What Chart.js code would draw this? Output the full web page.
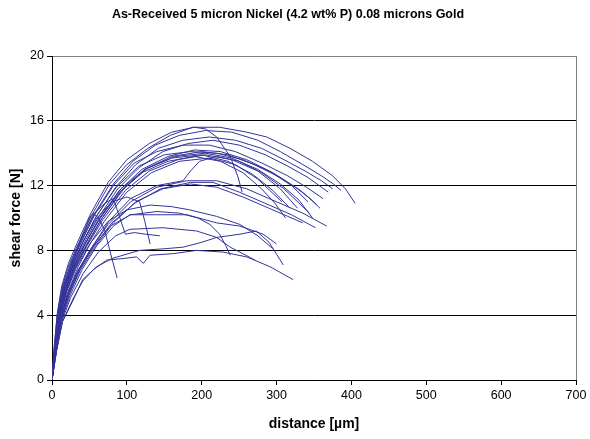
<!DOCTYPE html>
<html>
<head>
<meta charset="utf-8">
<script src="https://cdn.jsdelivr.net/npm/chart.js@4"></script>
<style>
  body { margin: 0; background: #fff; }
</style>
</head>
<body>
<canvas id="myChart" width="590" height="439"></canvas>
<script>
// shear test curves, [distance um, force N]
var curve01 = [[0,0],[3,2],[7,4],[13,5.6],[21,6.9],[33,8.2],[51,10],[77,12.1],[100,13.3],[128,14.3],[158,15.1],[188,15.6],[224,15.6],[260,15.3],[287,15],[318,14.3],[348,13.5],[375,12.6],[392,11.8],[405,10.9]];
var curve02 = [[0,0],[3,2.1],[7,4.1],[13,5.8],[22,7.2],[34,8.5],[52,10.3],[75,12.2],[100,13.6],[130,14.6],[160,15.3],[190,15.6],[205,15.5],[220,15],[238,13.8],[248,12.6],[254,11.6]];
var curve03 = [[0,0],[4,2],[8,4],[15,5.7],[24,7],[37,8.4],[56,10.2],[82,12.1],[108,13.5],[138,14.5],[170,15.1],[205,15.4],[240,15.3],[275,14.8],[305,14.1],[335,13.3],[360,12.6],[376,12.1],[386,11.7]];
var curve04 = [[0,0],[4,2],[9,4],[16,5.6],[26,7],[39,8.3],[58,10],[85,11.9],[112,13.3],[142,14.3],[175,14.8],[210,15],[245,14.8],[280,14.3],[310,13.6],[338,12.9],[360,12.3],[375,11.8]];
var curve05 = [[0,0],[4,1.9],[9,3.9],[17,5.6],[27,6.9],[41,8.3],[60,9.9],[88,11.8],[116,13.1],[148,14.1],[182,14.6],[215,14.8],[250,14.5],[285,13.9],[315,13.2],[342,12.5],[369,11.6]];
var curve06 = [[0,0],[4,1.8],[9,3.8],[17,5.5],[28,6.9],[42,8.2],[62,9.9],[90,11.7],[120,13],[155,13.8],[190,14.2],[225,14.1],[260,13.6],[295,12.8],[325,11.9],[345,11.2],[358,10.6]];
var curve07 = [[0,0],[5,2],[10,3.9],[18,5.4],[29,6.8],[44,8.2],[64,9.8],[93,11.7],[124,13],[160,13.8],[200,14.1],[235,13.9],[270,13.3],[305,12.5],[332,11.7],[354,10.8]];
var curve08 = [[0,0],[5,2],[10,3.9],[19,5.5],[30,6.9],[46,8.3],[67,10],[96,11.8],[128,13.1],[165,13.8],[205,14],[240,13.7],[275,13],[305,12.1],[330,11.1],[348,10]];
var curve09 = [[0,0],[4,1.9],[9,3.9],[17,5.6],[27,7],[40,8.4],[59,10.1],[86,11.9],[116,13.2],[150,13.9],[185,14.1],[220,14],[255,13.6],[290,12.9],[320,12],[342,11]];
var curve10 = [[0,0],[5,2],[10,3.8],[19,5.4],[31,6.9],[47,8.3],[68,9.9],[98,11.7],[130,12.9],[168,13.6],[205,13.9],[240,13.6],[275,12.9],[305,11.8],[328,10.6]];
var curve11 = [[0,0],[4,1.9],[9,3.9],[18,5.6],[29,7],[44,8.4],[64,10],[92,11.8],[124,13],[160,13.7],[200,13.9],[235,13.5],[268,12.7],[295,11.7],[318,10.6]];
var curve12 = [[0,0],[5,1.9],[11,3.9],[20,5.5],[32,6.9],[48,8.2],[70,9.8],[100,11.6],[133,12.8],[170,13.5],[210,13.7],[245,13.3],[275,12.4],[307,11]];
var curve13 = [[0,0],[5,1.8],[11,3.7],[21,5.3],[34,6.7],[52,8.1],[75,9.6],[105,11],[140,11.9],[180,12.3],[220,12.3],[260,11.8],[300,11],[335,10.3],[367,9.5]];
var curve14 = [[0,0],[5,1.8],[12,3.8],[22,5.3],[36,6.8],[55,8.2],[80,9.7],[110,10.9],[145,11.8],[185,12.2],[215,12.2],[250,11.6],[285,10.9],[320,10.2],[352,9.4]];
var curve15 = [[0,0],[6,1.9],[12,3.7],[23,5.3],[38,6.8],[57,8.2],[82,9.7],[112,11],[148,11.8],[185,12.1],[220,11.9],[255,11.3],[290,10.6],[315,10.1],[335,9.7]];
var curve16 = [[0,0],[5,1.8],[11,3.7],[21,5.3],[34,6.7],[52,8.1],[76,9.8],[105,11.2],[140,12],[175,12.3],[185,12.9],[197,13.5],[220,13.8],[250,13.5],[280,12.8],[310,11.8],[344,10.3]];
var curve17 = [[0,0],[5,1.8],[12,3.6],[24,5.2],[40,6.8],[60,8.3],[82,9.5],[104,10.2],[148,10.2],[180,10.2],[220,9.7],[251,9.5],[282,9],[300,8.4]];
var curve18 = [[0,0],[5,1.8],[12,3.7],[23,5.3],[38,6.9],[56,8.3],[78,9.5],[105,10.2],[140,10.4],[170,10.3],[195,10],[211,9.6],[224,9],[232,8.3],[238,7.7]];
var curve19 = [[0,0],[6,1.8],[13,3.6],[25,5.1],[42,6.6],[62,7.9],[85,8.9],[104,9.3],[148,9.4],[193,9.2],[220,8.8],[238,8.2],[255,7.8],[271,7.4]];
var curve20 = [[0,0],[6,1.8],[14,3.6],[28,4.9],[41,6.2],[60,7],[80,7.5],[117,8],[150,8.1],[175,8.2],[200,8.5],[220,8.8],[251,9],[273,9.2],[290,8.5],[309,7.1]];
var curve21 = [[0,0],[6,1.8],[14,3.6],[28,5],[41,6.1],[55,6.8],[73,7.4],[95,7.5],[113,7.6],[122,7.2],[131,7.7],[162,7.8],[193,8],[228,7.9],[260,7.6],[291,7],[322,6.2]];
var curve22 = [[0,0],[4,2],[8,3.9],[15,5.6],[25,7],[38,8.6],[50,10],[55,10.3],[62,10],[70,9.3],[75,8.4],[80,7.5],[87,6.3]];
var curve23 = [[0,0],[4,2],[9,4],[17,5.7],[28,7.1],[42,8.6],[60,10],[80,11],[100,11.3],[117,11],[124,9.8],[131,8.4]];
var curve24 = [[0,0],[4,2],[8,4],[15,5.8],[25,7.2],[38,8.6],[55,10.2],[70,10.9],[82,11.2],[90,10.1],[98,9],[110,9.1],[125,9],[144,8.9]];
var curve25 = [[0,0],[5,1.9],[11,3.8],[21,5.4],[35,7],[52,8.5],[75,9.8],[100,10.5],[131,10.8],[160,10.7],[184,10.5],[220,10.1],[251,9.6],[275,8.9],[295,8.1]];
var curve26 = [[0,0],[4,2],[8,4],[16,5.7],[26,7.1],[39,8.5],[57,10.2],[82,12],[110,13.4],[140,14.1],[175,14.5],[210,14.5],[245,14.1],[280,13.4],[315,12.6],[340,11.9],[362,11.2]];
var curve27 = [[0,0],[5,2],[10,3.9],[18,5.5],[29,6.9],[43,8.3],[63,9.9],[90,11.6],[120,12.8],[155,13.5],[190,13.8],[225,13.5],[255,12.8],[280,11.8],[298,10.9],[312,10]];

var curves = [curve01, curve02, curve03, curve04, curve05, curve06, curve07, curve08, curve09,
              curve10, curve11, curve12, curve13, curve14, curve15, curve16, curve17, curve18,
              curve19, curve20, curve21, curve22, curve23, curve24, curve25, curve26, curve27];

var xTicks = [0, 100, 200, 300, 400, 500, 600, 700];
var yTicks = [0, 4, 8, 12, 16, 20];

var lineColor = '#333399';

Chart.defaults.font.family = '"Liberation Sans", Arial, sans-serif';
Chart.defaults.color = '#000';

var datasets = curves.map(function (c, i) {
    return {
        label: 'test ' + (i + 1),
        data: c.map(function (p) { return { x: p[0], y: p[1] }; }),
        showLine: true,
        borderColor: lineColor,
        backgroundColor: lineColor,
        borderWidth: 1,
        pointRadius: 0,
        tension: 0
    };
});

var ctx = document.getElementById('myChart').getContext('2d');
var myChart = new Chart(ctx, {
    type: 'scatter',
    data: { datasets: datasets },
    options: {
        responsive: false,
        animation: false,
        devicePixelRatio: 1,
        layout: { padding: { left: 0, right: 14, top: 0, bottom: 0 } },
        plugins: {
            legend: { display: false },
            tooltip: { enabled: false },
            title: {
                display: true,
                text: 'As-Received 5 micron Nickel (4.2 wt% P) 0.08 microns Gold',
                font: { size: 12.5, weight: 'bold' },
                color: '#000',
                padding: { top: 7, bottom: 34 }
            }
        },
        scales: {
            x: {
                type: 'linear',
                min: 0,
                max: 700,
                afterBuildTicks: function (scale) {
                    scale.ticks = xTicks.map(function (v) { return { value: v }; });
                },
                afterFit: function (scale) { scale.height = 59; },
                ticks: { font: { size: 12.5 }, padding: 3, maxRotation: 0 },
                grid: {
                    color: function (c) { return c.tick && c.tick.value === 700 ? '#808080' : 'rgba(0,0,0,0)'; },
                    tickColor: '#000',
                    tickLength: 5,
                    lineWidth: 1
                },
                border: { color: '#000', width: 1 },
                title: {
                    display: true,
                    text: 'distance [µm]',
                    font: { size: 14, weight: 'bold' },
                    padding: { top: 0, bottom: 6 }
                }
            },
            y: {
                min: 0,
                max: 20,
                afterBuildTicks: function (scale) {
                    scale.ticks = yTicks.map(function (v) { return { value: v }; });
                },
                afterFit: function (scale) { scale.width = 52; },
                ticks: { font: { size: 12.5 }, padding: 3 },
                grid: {
                    color: function (c) { return c.tick && c.tick.value === 20 ? '#808080' : '#000'; },
                    tickColor: '#000',
                    tickLength: 5,
                    lineWidth: 1
                },
                border: { color: '#000', width: 1 },
                title: {
                    display: true,
                    text: 'shear force [N]',
                    font: { size: 14, weight: 'bold' },
                    padding: { top: 8, bottom: 0 }
                }
            }
        }
    }
});
</script>
</body>
</html>
